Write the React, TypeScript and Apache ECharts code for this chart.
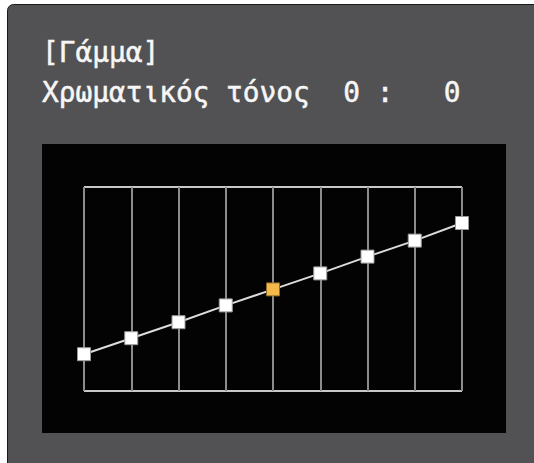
import React, { useEffect, useRef } from "react";
import * as echarts from "echarts";

const categories = ["1", "2", "3", "4", "5", "6", "7", "8", "9"];
const values = [46, 66, 86, 107, 127, 147, 168, 188, 210];
const highlightIndex = 4;
const titleLine = "[Γάμμα]";
const labelLine = "Χρωματικός τόνος  0 :   0";

export default function App() {
  const ref = useRef<HTMLDivElement>(null);
  useEffect(() => {
    if (!ref.current) return;
    const chart = echarts.init(ref.current, null, { renderer: "svg" });
    const font = "'DejaVu Sans Mono', monospace";
    chart.setOption({
      animation: false,
      backgroundColor: "#ffffff",
      graphic: [
        {
          type: "rect",
          z: -10,
          shape: { x: 7.5, y: 4.5, width: 540, height: 470, r: 6 },
          style: { fill: "#525254", stroke: "#1a1a1a", lineWidth: 1 },
        },
        {
          type: "rect",
          z: -9,
          shape: { x: 42, y: 144, width: 464, height: 289 },
          style: { fill: "#030303" },
        },
        {
          type: "text",
          x: 42,
          y: 52,
          style: { text: titleLine, fill: "#f6f6f6", font: `27.8px ${font}`, verticalAlign: "middle", stroke: "#f6f6f6", lineWidth: 0.5 },
        },
        {
          type: "text",
          x: 42,
          y: 92,
          style: { text: labelLine, fill: "#f6f6f6", font: `27.8px ${font}`, verticalAlign: "middle", stroke: "#f6f6f6", lineWidth: 0.5 },
        },
      ],
      grid: { left: 84, right: 72, top: 187, bottom: 72 },
      xAxis: {
        type: "category",
        data: categories,
        boundaryGap: false,
        axisLine: { show: false },
        axisTick: { show: false },
        axisLabel: { show: false },
        splitLine: { show: true, lineStyle: { color: "#8c8c8c", width: 2 } },
      },
      yAxis: {
        type: "value",
        min: 0,
        max: 255,
        interval: 255,
        axisLine: { show: false },
        axisTick: { show: false },
        axisLabel: { show: false },
        splitLine: { show: true, lineStyle: { color: "#c8c8c8", width: 2 } },
      },
      series: [
        {
          type: "line",
          data: values.map((v, i) =>
            i === highlightIndex
              ? { value: v, itemStyle: { color: "#f5b94a", borderColor: "#8a6a30" } }
              : v
          ),
          symbol: "rect",
          symbolSize: 13,
          lineStyle: { color: "#dcdcdc", width: 2 },
          itemStyle: { color: "#ffffff", borderColor: "#9a9a9a", borderWidth: 1 },
        },
      ],
    });
    return () => chart.dispose();
  }, []);
  return (
    <div
      ref={ref}
      style={{ position: "fixed", left: 0, top: 0, width: 534, height: 463 }}
    />
  );
}
